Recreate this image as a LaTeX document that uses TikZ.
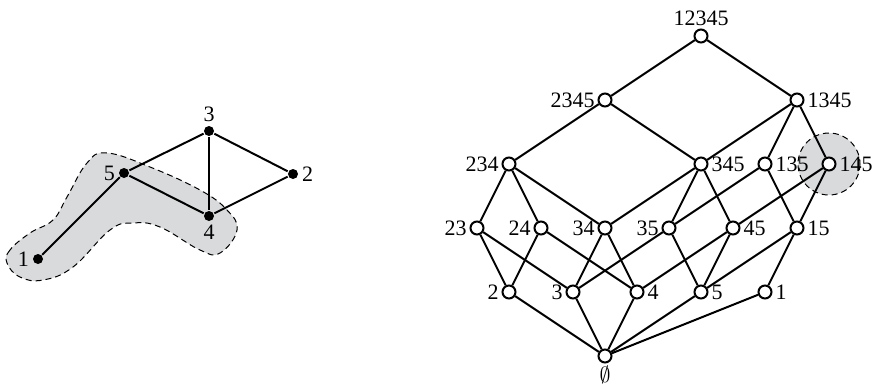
\documentclass[tikz,border=0pt]{standalone}
\usepackage{fontspec}
\setmainfont{Liberation Serif}
\definecolor{shade}{RGB}{216,218,220}
\begin{document}
\begin{tikzpicture}[x=0.5pt, y=-0.5pt, line width=1pt,
        font=\fontsize{11}{13}\selectfont,
        vert/.style={circle, fill=black, inner sep=0pt, minimum size=5pt},
        elem/.style={circle, draw, fill=white, inner sep=0pt, minimum size=6.5pt},
        every label/.style={inner sep=1pt}, label distance=0pt,
        blob/.style={fill=shade, line width=0.5pt, dash pattern=on 3pt off 2pt}]
    \useasboundingbox (0,0) rectangle (875,387);

    % the graph, with the set {1,4,5} shaded
    \draw[blob] plot[smooth cycle, tension=0.7] coordinates {(30,233) (10,250) (7,263) (20,277) (43,280) (73,267) (110,230) (133,223) (160,227) (200,250) (220,253) (237,230) (227,210) (200,190) (150,167) (107,153) (87,163) (67,197) (53,220)};

    \node[vert, label=left:1] (v1) at (38,259) {};
    \node[vert, label=left:5] (v5) at (124,173) {};
    \node[vert, label=below:4] (v4) at (209,216) {};
    \node[vert, label=above:3] (v3) at (209,131) {};
    \node[vert, label=right:2] (v2) at (293,174) {};

    \draw (v1) -- (v5) -- (v3) -- (v2) -- (v4) -- (v5);
    \draw (v3) -- (v4);

    % the lattice
    \draw[blob] (829,164) circle[radius=31];

    \node[elem, label=above:12345] (n12345) at (701,36) {};

    \node[elem, label=left:2345] (n2345) at (605,100) {};
    \node[elem, label=right:1345] (n1345) at (797,100) {};

    \node[elem, label=left:234] (n234) at (509,164) {};
    \node[elem, label=right:345] (n345) at (701,164) {};
    \node[elem, label=right:135] (n135) at (765,164) {};
    \node[elem, label=right:145] (n145) at (829,164) {};

    \node[elem, label=left:23] (n23) at (477,228) {};
    \node[elem, label=left:24] (n24) at (541,228) {};
    \node[elem, label=left:34] (n34) at (605,228) {};
    \node[elem, label=left:35] (n35) at (669,228) {};
    \node[elem, label=right:45] (n45) at (733,228) {};
    \node[elem, label=right:15] (n15) at (797,228) {};

    \node[elem, label=left:2] (n2) at (509,292) {};
    \node[elem, label=left:3] (n3) at (573,292) {};
    \node[elem, label=right:4] (n4) at (637,292) {};
    \node[elem, label=right:5] (n5) at (701,292) {};
    \node[elem, label=right:1] (n1) at (765,292) {};

    \node[elem, label=below:$\emptyset$] (n0) at (605,356) {};

    \draw (n2345) -- (n12345) -- (n1345);
    \draw (n234) -- (n2345) -- (n345) -- (n1345) -- (n135);
    \draw (n1345) -- (n145);
    \draw (n23) -- (n234) -- (n24);
    \draw (n234) -- (n34) -- (n345) -- (n35);
    \draw (n345) -- (n45);
    \draw (n35) -- (n135) -- (n15) -- (n145) -- (n45);
    \draw (n2) -- (n23) -- (n3);
    \draw (n2) -- (n24) -- (n4);
    \draw (n3) -- (n34) -- (n4);
    \draw (n3) -- (n35) -- (n5);
    \draw (n4) -- (n45) -- (n5);
    \draw (n5) -- (n15) -- (n1);
    \draw (n2) -- (n0) -- (n3);
    \draw (n4) -- (n0) -- (n5);
    \draw (n0) -- (n1);
\end{tikzpicture}
\end{document}
